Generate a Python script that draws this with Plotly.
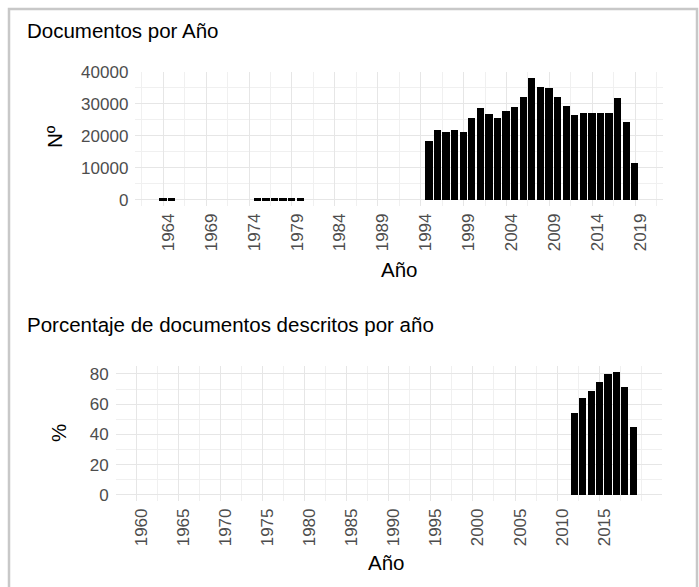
import plotly.graph_objects as go

W, H = 699, 587

# ---- data ----
doc_years = [1964, 1965, 1975, 1976, 1977, 1978, 1979, 1980,
             1995, 1996, 1997, 1998, 1999, 2000, 2001, 2002, 2003, 2004,
             2005, 2006, 2007, 2008, 2009, 2010, 2011, 2012, 2013, 2014,
             2015, 2016, 2017, 2018, 2019]
doc_counts = [600, 600, 600, 600, 600, 600, 600, 600,
              18400, 21800, 21400, 21800, 21400, 25800, 28900, 27000, 25800, 28000,
              29250, 32300, 38100, 35500, 35000, 32300, 29300, 26700, 27100, 27100,
              27100, 27100, 31950, 24500, 11750]

pct_years = [2012, 2013, 2014, 2015, 2016, 2017, 2018, 2019]
pct_values = [54.0, 64.1, 69.0, 74.3, 79.8, 81.1, 71.6, 44.7]

top_xticks = list(range(1964, 2020, 5))
top_yticks = [0, 10000, 20000, 30000, 40000]
bot_xticks = list(range(1960, 2020, 5))
bot_yticks = [0, 20, 40, 60, 80]

title_top = "Documentos por Año"
title_bot = "Porcentaje de documentos descritos por año"


def fx(px):
    return px / W


def fy(py):
    return 1 - py / H


FONT = "Liberation Sans, Arial, Helvetica, sans-serif"
TICKC = "#4d4d4d"
GRID = "#e6e6e6"
MGRID = "#f0f0f0"
TICKSIZE = 17

fig = go.Figure()
fig.add_trace(go.Bar(x=doc_years, y=doc_counts, width=0.85,
                     marker=dict(color="black", line=dict(width=0)),
                     xaxis="x", yaxis="y", showlegend=False))
fig.add_trace(go.Bar(x=pct_years, y=pct_values, width=0.85,
                     marker=dict(color="black", line=dict(width=0)),
                     xaxis="x2", yaxis="y2", showlegend=False))


def minor_between(ticks, lo, hi):
    step = ticks[1] - ticks[0]
    ext = [ticks[0] - step] + ticks + [ticks[-1] + step]
    vals = []
    for a, b in zip(ext[:-1], ext[1:]):
        vals.append((a + b) / 2)
    vals.append(ext[-1])
    return [v for v in vals if lo <= v <= hi and v not in ticks]


axis_common = dict(showline=False, zeroline=False, ticks="", showgrid=True,
                   automargin=False, gridcolor=GRID, gridwidth=1.2,
                   tickfont=dict(family=FONT, size=TICKSIZE, color=TICKC))

top_xr = [1960.75, 2022.25]
top_yr = [-1906, 40036]
bot_xr = [1957.55, 2022.45]
bot_yr = [-4.06, 85.2]

fig.update_layout(
    width=W, height=H,
    margin=dict(l=0, r=0, t=0, b=0, autoexpand=False),
    paper_bgcolor="white", plot_bgcolor="white",
    bargap=0,
    xaxis=dict(domain=[fx(135.4), fx(663.1)], range=top_xr, anchor="y",
               tickmode="array", tickvals=top_xticks,
               ticktext=[str(v) for v in top_xticks], tickangle=-90,
               ticklabelshift=5, ticklabelstandoff=3,
               minor=dict(tickmode="array", tickvals=minor_between(top_xticks, *top_xr),
                          showgrid=True, gridcolor=MGRID, gridwidth=0.8),
               **axis_common),
    yaxis=dict(domain=[fy(206.1), fy(71.6)], range=top_yr, anchor="x",
               tickmode="array", tickvals=top_yticks,
               ticktext=[str(v) for v in top_yticks], ticklabelstandoff=6,
               minor=dict(tickmode="array", tickvals=minor_between(top_yticks, *top_yr),
                          showgrid=True, gridcolor=MGRID, gridwidth=0.8),
               **axis_common),
    xaxis2=dict(domain=[fx(115.6), fx(661.9)], range=bot_xr, anchor="y2",
                tickmode="array", tickvals=bot_xticks,
                ticktext=[str(v) for v in bot_xticks], tickangle=-90,
                ticklabelshift=5, ticklabelstandoff=3,
                minor=dict(tickmode="array", tickvals=minor_between(bot_xticks, *bot_xr),
                           showgrid=True, gridcolor=MGRID, gridwidth=0.8),
                **axis_common),
    yaxis2=dict(domain=[fy(501.1), fy(366.1)], range=bot_yr, anchor="x2",
                tickmode="array", tickvals=bot_yticks,
                ticktext=[str(v) for v in bot_yticks], ticklabelstandoff=6,
                minor=dict(tickmode="array", tickvals=minor_between(bot_yticks, *bot_yr),
                           showgrid=True, gridcolor=MGRID, gridwidth=0.8),
                **axis_common),
)

ann = []
ann.append(dict(text=title_top, x=fx(25), y=fy(30.5), xref="paper", yref="paper",
                xanchor="left", yanchor="middle", showarrow=False,
                font=dict(family=FONT, size=20.5, color="black")))
ann.append(dict(text=title_bot, x=fx(25), y=fy(324), xref="paper", yref="paper",
                xanchor="left", yanchor="middle", showarrow=False,
                font=dict(family=FONT, size=20.5, color="black")))
ann.append(dict(text="Año", x=fx(399.2), y=fy(269), xref="paper", yref="paper",
                xanchor="center", yanchor="middle", showarrow=False,
                font=dict(family=FONT, size=20.5, color="black")))
ann.append(dict(text="Año", x=fx(386), y=fy(562), xref="paper", yref="paper",
                xanchor="center", yanchor="middle", showarrow=False,
                font=dict(family=FONT, size=20.5, color="black")))
ann.append(dict(text="Nº", x=fx(55), y=fy(137), xref="paper", yref="paper",
                xanchor="center", yanchor="middle", showarrow=False, textangle=-90,
                font=dict(family=FONT, size=20.5, color="black")))
ann.append(dict(text="%", x=fx(58), y=fy(433), xref="paper", yref="paper",
                xanchor="center", yanchor="middle", showarrow=False, textangle=-90,
                font=dict(family=FONT, size=20.5, color="black")))
fig.update_layout(annotations=ann)

fig.add_shape(type="rect", xref="paper", yref="paper",
              x0=fx(9), x1=fx(697), y0=fy(620), y1=fy(9),
              line=dict(color="#c8c8c8", width=2.5), fillcolor="rgba(0,0,0,0)",
              layer="above")

fig.write_html("out.html", config={"displayModeBar": False},
               post_script="document.body.style.margin='0';document.body.style.overflow='hidden';")
